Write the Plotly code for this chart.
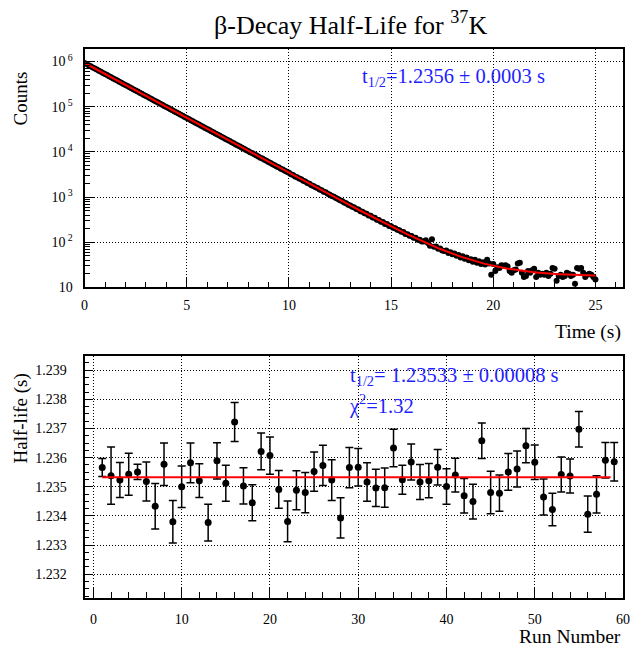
import numpy as np
import plotly.graph_objects as go

# ---------------- decay spectrum (counts per 0.1 s bin) ----------------
time_s = np.round(np.arange(251) * 0.1, 1)
counts = [
    930000, 879300, 831300, 785900, 743100, 702500, 664200, 628000, 593700, 561300,
    530700, 501700, 474400, 448500, 424000, 400900, 379000, 358300, 338800, 320300,
    302800, 286300, 270700, 255900, 242000, 228800, 216300, 204500, 193300, 182800,
    172800, 163400, 154500, 146000, 138100, 130500, 123400, 116700, 110300, 104300,
    98630, 93250, 88170, 83360, 78810, 74510, 70450, 66610, 62970, 59540,
    56290, 53220, 50320, 47580, 44980, 42530, 40210, 38020, 35940, 33980,
    32130, 30380, 28720, 27160, 25680, 24280, 22950, 21700, 20520, 19400,
    18340, 17340, 16400, 15500, 14660, 13860, 13110, 12390, 11720, 11080,
    10510, 9871, 9402, 8820, 8390, 7951, 7462, 7102, 6668, 6350,
    5960, 5688, 5330, 5085, 4760, 4548, 4261, 4072, 3805, 3640,
    3441, 3218, 3080, 2872, 2755, 2571, 2470, 2298, 2205, 2058,
    1975, 1838, 1770, 1646, 1582, 1471, 1418, 1316, 1271, 1178,
    1131, 1058, 1015, 949, 910, 848, 815, 760, 731, 680,
    655, 610, 590, 545, 530, 488, 476, 437, 428, 392,
    385, 352, 347, 316, 312, 283, 281, 255, 253, 229,
    226, 209, 205, 188, 185, 170, 168, 153, 151, 139,
    138, 125, 126, 113, 114, 104, 104, 110, 96, 84,
    116, 79, 80, 72, 73, 66, 64, 66, 58, 60,
    54, 56, 50, 52, 46, 49, 43, 46, 40, 42,
    37, 41, 35, 38, 33, 36, 32, 41, 34, 19,
    33, 23, 28, 27, 31, 30, 31, 29, 23, 21,
    24, 25, 34, 35, 21, 17, 18, 23, 21, 24,
    26, 17, 21, 19, 20, 19, 21, 18, 20, 27,
    26, 14, 18, 19, 17, 18, 21, 20, 18, 19,
    12, 27, 26, 27, 21, 17, 19, 20, 19, 17,
    15,
]

# exponential + constant background fit
fit_amp = 930000.0
fit_half_life = 1.2356
fit_half_life_err = 0.0003
fit_bkg = 17.6

# ---------------- half-life for each run ----------------
run_number = list(range(1, 60))
half_life = [
    1.23566, 1.23538, 1.23523, 1.23543, 1.23551, 1.23518, 1.23433, 1.23577, 1.23380, 1.23500,
    1.23582, 1.23521, 1.23377, 1.23589, 1.23512, 1.23722, 1.23503, 1.23445, 1.23621, 1.23607,
    1.23491, 1.23381, 1.23488, 1.23480, 1.23552, 1.23573, 1.23523, 1.23393, 1.23566, 1.23567,
    1.23516, 1.23496, 1.23497, 1.23633, 1.23524, 1.23585, 1.23516, 1.23521, 1.23567, 1.23501,
    1.23540, 1.23469, 1.23449, 1.23658, 1.23480, 1.23478, 1.23551, 1.23561, 1.23641, 1.23584,
    1.23465, 1.23422, 1.23542, 1.23537, 1.23697, 1.23406, 1.23474, 1.23591, 1.23586,
]
half_life_err = [
    0.00031, 0.00098, 0.00060, 0.00072, 0.00026, 0.00067, 0.00078, 0.00073, 0.00073, 0.00071,
    0.00068, 0.00058, 0.00063, 0.00062, 0.00062, 0.00067, 0.00062, 0.00062, 0.00063, 0.00064,
    0.00065, 0.00070, 0.00067, 0.00069, 0.00067, 0.00069, 0.00070, 0.00069, 0.00069, 0.00064,
    0.00066, 0.00064, 0.00067, 0.00064, 0.00050, 0.00062, 0.00060, 0.00059, 0.00061, 0.00061,
    0.00058, 0.00059, 0.00060, 0.00061, 0.00073, 0.00062, 0.00063, 0.00062, 0.00059, 0.00059,
    0.00062, 0.00056, 0.00060, 0.00058, 0.00061, 0.00062, 0.00064, 0.00061, 0.00066,
]
mean_half_life = 1.23533
mean_half_life_err = 0.00008
chi2_ndf = 1.32
fit_runs = [1.0, 58.6]

# ---------------- figure ----------------
W, H = 632, 649
FONT = "Liberation Serif, Times New Roman, serif"
BLUE = "#1f1fff"


def px_x(p):
    return p / W


def px_y(p):
    return 1 - p / H


fig = go.Figure()

fig.add_trace(go.Scatter(
    x=time_s, y=counts, mode="markers",
    marker=dict(color="black", size=6),
    xaxis="x", yaxis="y", showlegend=False,
))
t_fit = np.linspace(0, 25, 501)
fig.add_trace(go.Scatter(
    x=t_fit, y=fit_amp * 2.0 ** (-t_fit / fit_half_life) + fit_bkg,
    mode="lines", line=dict(color="#ff0000", width=2),
    xaxis="x", yaxis="y", showlegend=False,
))

fig.add_trace(go.Scatter(
    x=run_number, y=half_life, mode="markers",
    marker=dict(color="black", size=7),
    error_y=dict(type="data", array=half_life_err, color="black", thickness=1.5, width=4),
    xaxis="x2", yaxis="y2", showlegend=False,
))
fig.add_trace(go.Scatter(
    x=fit_runs, y=[mean_half_life, mean_half_life],
    mode="lines", line=dict(color="#ff0000", width=2),
    xaxis="x2", yaxis="y2", showlegend=False,
))

common = dict(
    showline=True, linecolor="black", linewidth=2, mirror=True,
    ticks="inside", tickcolor="black", tickwidth=1,
    showgrid=True, gridcolor="black", gridwidth=1, griddash="1px,2px",
    zeroline=False, tickfont=dict(family=FONT, size=14, color="black"),
    ticklabeloverflow="allow",
)

decades = [10, 1e2, 1e3, 1e4, 1e5, 1e6]
decade_text = ["10", "10<sup> 2</sup>", "10<sup> 3</sup>", "10<sup> 4</sup>",
               "10<sup> 5</sup>", "10<sup> 6</sup>"]
log_minor = [m * d for d in [10, 1e2, 1e3, 1e4, 1e5, 1e6] for m in range(2, 10)]

fig.update_layout(
    width=W, height=H, margin=dict(l=0, r=0, t=0, b=0),
    paper_bgcolor="white", plot_bgcolor="white",
    font=dict(family=FONT, color="black"),
    xaxis=dict(
        domain=[px_x(82), px_x(630)], anchor="y", range=[0, 26.35],
        tickmode="linear", tick0=0, dtick=5, ticklen=9,
        minor=dict(ticks="inside", dtick=1, ticklen=5, tickcolor="black", showgrid=False),
        ticklabelstandoff=4,
        **common,
    ),
    yaxis=dict(
        domain=[px_y(291), px_y(50)], anchor="x", type="log", range=[1, 6.27],
        tickmode="array", tickvals=decades, ticktext=decade_text, ticklen=9,
        minor=dict(ticks="inside", tickmode="array", tickvals=log_minor, ticklen=5,
                   tickcolor="black", showgrid=False),
        ticklabelstandoff=7,
        **common,
    ),
    xaxis2=dict(
        domain=[px_x(82), px_x(630)], anchor="y2", range=[-1, 60],
        tickmode="linear", tick0=0, dtick=10, ticklen=11,
        minor=dict(ticks="inside", dtick=2, ticklen=6, tickcolor="black", showgrid=False),
        ticklabelstandoff=8,
        **common,
    ),
    yaxis2=dict(
        domain=[px_y(605), px_y(360)], anchor="x2", range=[1.2312, 1.2395],
        tickmode="linear", tick0=1.232, dtick=0.001, tickformat=".3f", ticklen=8,
        minor=dict(ticks="inside", dtick=0.00025, ticklen=4, tickcolor="black", showgrid=False),
        ticklabelstandoff=13,
        **common,
    ),
)

ann = [
    dict(text="β-Decay Half-Life for <sup>37</sup>K", x=px_x(353), y=px_y(24),
         xanchor="center", yanchor="middle", font=dict(size=26)),
    dict(text="Counts", x=px_x(17), y=px_y(100), textangle=-90,
         xanchor="center", yanchor="middle", font=dict(size=19)),
    dict(text="Time (s)", x=px_x(630), y=px_y(336),
         xanchor="right", yanchor="middle", font=dict(size=19.5)),
    dict(text="Half-life (s)", x=px_x(17), y=px_y(424), textangle=-90,
         xanchor="center", yanchor="middle", font=dict(size=19)),
    dict(text="Run Number", x=px_x(630), y=px_y(644),
         xanchor="right", yanchor="middle", font=dict(size=19.5)),
    dict(text=f"t<sub>1/2</sub>={fit_half_life:.4f} ± {fit_half_life_err:.4f} s",
         x=px_x(362), y=px_y(78), xanchor="left", yanchor="middle",
         font=dict(size=20.5, color=BLUE)),
    dict(text=f"t<sub>1/2</sub>= {mean_half_life:.5f} ± {mean_half_life_err:.5f} s",
         x=px_x(350), y=px_y(381), xanchor="left", yanchor="middle",
         font=dict(size=20.5, color=BLUE)),
    dict(text=f"χ<sup>2</sup>={chi2_ndf:.2f}",
         x=px_x(349), y=px_y(410), xanchor="left", yanchor="middle",
         font=dict(size=20.5, color=BLUE)),
]
for a in ann:
    a.update(xref="paper", yref="paper", showarrow=False)
    a.setdefault("font", {})
    a["font"].setdefault("family", FONT)
    a["font"].setdefault("color", "black")
fig.update_layout(annotations=ann)

fig.write_html("out.html")
